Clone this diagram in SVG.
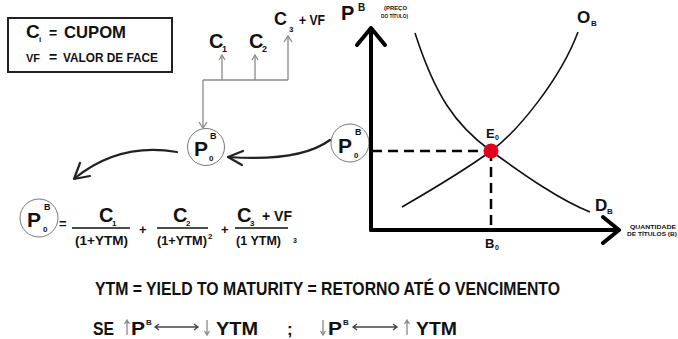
<svg xmlns="http://www.w3.org/2000/svg" width="678" height="339" viewBox="0 0 678 339">
<defs>
<style>
text{font-family:"Liberation Sans","DejaVu Sans",sans-serif;font-weight:bold;fill:#111}
.gray{stroke:#8a8a8a;stroke-width:1.3;fill:none}
.thin{stroke:#444;stroke-width:1.3;fill:none}
.circ{fill:#fff;stroke:#777;stroke-width:1}
.curve{stroke:#111;stroke-width:1.6;fill:none}
.axis{stroke:#000;stroke-width:4;fill:none;stroke-linecap:round;stroke-linejoin:round}
.dash{stroke:#000;stroke-width:2.5;fill:none;stroke-dasharray:10 6}
.arr{stroke:#222;stroke-width:2.2;fill:none;stroke-linecap:round;stroke-linejoin:round}
</style>
</defs>

<g id="legend">
<rect x="8" y="18" width="164" height="54" fill="#fff" stroke="#222" stroke-width="2"/>
<text x="26" y="38" font-size="19">C</text>
<text x="39" y="42" font-size="8">i</text>
<text x="49" y="38" font-size="14">=</text>
<text x="64" y="38" font-size="17" textLength="62" lengthAdjust="spacingAndGlyphs">CUPOM</text>
<text x="26" y="62" font-size="11" textLength="14" lengthAdjust="spacingAndGlyphs">VF</text>
<text x="49" y="62" font-size="14">=</text>
<text x="63" y="62" font-size="13" textLength="95" lengthAdjust="spacingAndGlyphs">VALOR DE FACE</text>
</g>

<g id="cashflows">
<text x="209" y="48" font-size="20">C</text>
<text x="222" y="52" font-size="9">1</text>
<text x="249" y="48" font-size="20">C</text>
<text x="262" y="52" font-size="9">2</text>
<text x="274" y="25" font-size="18">C</text>
<text x="289" y="32" font-size="8">3</text>
<text x="299" y="25" font-size="15" textLength="26" lengthAdjust="spacingAndGlyphs">+ VF</text>
</g>

<g id="node-p0-mid">
<circle cx="206" cy="147" r="18.5" class="circ"/>
<text x="194" y="156" font-size="21">P</text>
<text x="210" y="139" font-size="9">B</text>
<text x="209" y="161" font-size="8">0</text>
</g>

<g id="node-p0-axis">
<circle cx="350" cy="143" r="19" class="circ"/>
<text x="338" y="153" font-size="21">P</text>
<text x="355" y="135" font-size="9">B</text>
<text x="354" y="158" font-size="8">0</text>
</g>

<g id="formula">
<circle cx="39" cy="218" r="19" class="circ"/>
<text x="27" y="227" font-size="21">P</text>
<text x="44" y="210" font-size="9">B</text>
<text x="43" y="232" font-size="8">0</text>
<text x="59" y="228" font-size="13">=</text>
<text x="99" y="222" font-size="20">C</text>
<text x="112" y="226" font-size="8">1</text>
<line x1="72" y1="228" x2="130" y2="228" stroke="#111" stroke-width="1.6"/>
<text x="75" y="245" font-size="13" textLength="53" lengthAdjust="spacingAndGlyphs">(1+YTM)</text>
<text x="139" y="234" font-size="13">+</text>
<text x="173" y="222" font-size="20">C</text>
<text x="186" y="226" font-size="8">2</text>
<line x1="157" y1="228" x2="208" y2="228" stroke="#111" stroke-width="1.6"/>
<text x="157" y="245" font-size="13" textLength="50" lengthAdjust="spacingAndGlyphs">(1+YTM)</text>
<text x="208" y="239" font-size="8">2</text>
<text x="221" y="234" font-size="13">+</text>
<text x="237" y="222" font-size="20">C</text>
<text x="250" y="226" font-size="8">3</text>
<text x="262" y="221" font-size="14" textLength="30" lengthAdjust="spacingAndGlyphs">+ VF</text>
<line x1="235" y1="228" x2="288" y2="228" stroke="#111" stroke-width="1.6"/>
<text x="236" y="245" font-size="13" textLength="45" lengthAdjust="spacingAndGlyphs">(1  YTM)</text>
<text x="293" y="243" font-size="7">3</text>
</g>

<g id="graph">
<path d="M415,33 C435,95 455,125 491,151 S560,200 590,212" class="curve"/>
<path d="M402,207 C440,185 465,170 491,151 S560,80 578,32" class="curve"/>
<line x1="372" y1="151" x2="491" y2="151" class="dash"/>
<line x1="491" y1="151" x2="491" y2="230" class="dash"/>
<path d="M371,230 L371,28 M357,45 L371,28 L385,45" class="axis"/>
<path d="M371,230 L619,230 M603,217 L619,230 L603,243" class="axis"/>
<circle cx="491" cy="151" r="7.5" fill="#e0001b"/>
<text x="341" y="20" font-size="20">P</text>
<text x="358" y="11" font-size="10">B</text>
<text x="384" y="10" font-size="6" textLength="23" lengthAdjust="spacingAndGlyphs">(PREÇO</text>
<text x="381" y="18" font-size="6" textLength="27" lengthAdjust="spacingAndGlyphs">DO TÍTULO)</text>
<text x="577" y="23" font-size="17">O</text>
<text x="591" y="26" font-size="8">B</text>
<text x="595" y="211" font-size="17">D</text>
<text x="607" y="214" font-size="8">B</text>
<text x="486" y="138" font-size="13">E</text>
<text x="495" y="140" font-size="7">0</text>
<text x="485" y="248" font-size="13">B</text>
<text x="495" y="250" font-size="7">0</text>
<text x="630" y="229" font-size="6" textLength="46" lengthAdjust="spacingAndGlyphs">QUANTIDADE</text>
<text x="627" y="236" font-size="6" textLength="50" lengthAdjust="spacingAndGlyphs">DE TÍTULOS (B)</text>
</g>

<g id="connectors">
<path d="M203,80 L288,80 M222,80 L222,55 M255,80 L255,55 M288,80 L288,36 M203,80 L203,128" class="gray"/>
<path d="M219,60 L222,55 L225,60 M252,60 L255,55 L258,60 M284,42 L288,36 L292,42 M199,122 L203,128 L207,122" class="gray"/>
<path d="M330,140 Q300,162 228,157" class="arr"/>
<path d="M243,151 L228,157 L242,165" class="arr"/>
<path d="M177,152 Q120,142 75,178" class="arr"/>
<path d="M80,163 L74,179 L90,176" class="arr"/>
</g>

<g id="notes">
<text x="95" y="295" font-size="18" textLength="465" lengthAdjust="spacingAndGlyphs">YTM = YIELD TO MATURITY  =  RETORNO ATÉ O VENCIMENTO</text>
<text x="93" y="335" font-size="18" textLength="21" lengthAdjust="spacingAndGlyphs">SE</text>
<text x="131" y="335" font-size="19" textLength="14" lengthAdjust="spacingAndGlyphs">P</text>
<text x="146" y="325" font-size="8">B</text>
<text x="216" y="335" font-size="18" textLength="42" lengthAdjust="spacingAndGlyphs">YTM</text>
<text x="287" y="335" font-size="17">;</text>
<text x="328" y="335" font-size="19" textLength="14" lengthAdjust="spacingAndGlyphs">P</text>
<text x="343" y="325" font-size="8">B</text>
<text x="416" y="335" font-size="18" textLength="41" lengthAdjust="spacingAndGlyphs">YTM</text>
<path d="M127,335 L127,320 M124.5,324 L127,320 L129.5,324 M207,320 L207,335 M204.5,331 L207,335 L209.5,331 M323,320 L323,335 M320.5,331 L323,335 L325.5,331 M407,335 L407,320 M404.5,324 L407,320 L409.5,324" class="gray"/>
<path d="M155,327 L198,327 M159,324 L155,327 L159,330 M194,324 L198,327 L194,330 M353,327 L397,327 M357,324 L353,327 L357,330 M393,324 L397,327 L393,330" class="thin"/>
</g>
</svg>
